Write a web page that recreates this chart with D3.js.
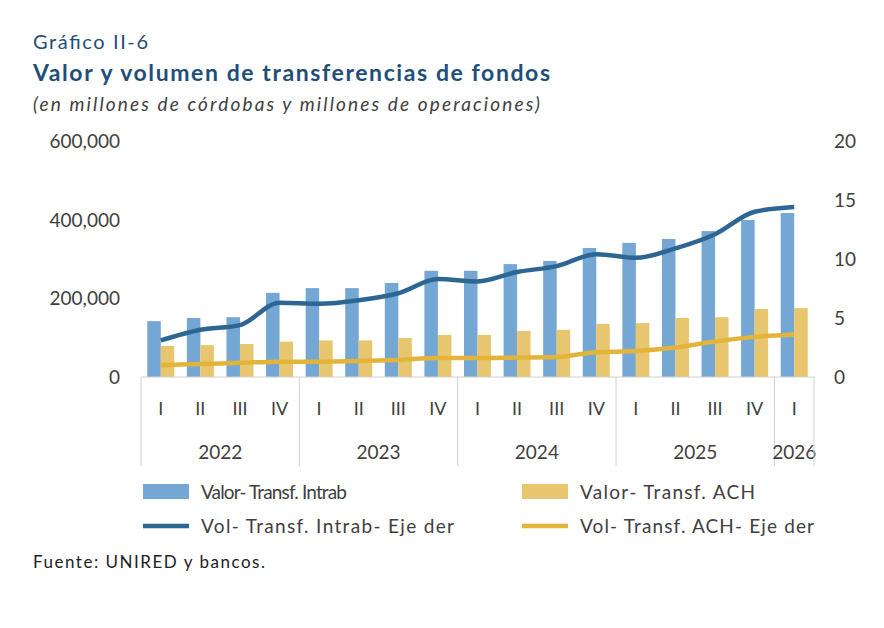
<!DOCTYPE html>
<html><head><meta charset="utf-8">
<script src="https://cdn.jsdelivr.net/npm/d3@7"></script>
<style>body{margin:0;background:#fff;font-family:Lato,"Open Sans",sans-serif}</style>
</head><body><svg id="c" width="884" height="628"></svg>
<script>
const quarters = ["I","II","III","IV","I","II","III","IV","I","II","III","IV","I","II","III","IV","I"];
const years = [["2022",4],["2023",4],["2024",4],["2025",4],["2026",1]];
const valIntrab = [142,150,152,214,226,226,239,270,270,287,295,328,341,351,371,399,417].map(v=>v*1000);
const valACH = [79,81,84,90,93,93,99,107,107,117,120,135,137,150,152,173,175].map(v=>v*1000);
const volIntrab = [3.1,4.0,4.4,6.3,6.2,6.5,7.1,8.3,8.1,8.9,9.4,10.4,10.1,10.9,12.1,14.0,14.4];
const volACH = [1.0,1.1,1.2,1.3,1.3,1.35,1.45,1.6,1.6,1.65,1.7,2.1,2.2,2.5,3.0,3.4,3.6];
const leftTicks = [0,200000,400000,600000];
const rightTicks = [0,5,10,15,20];

const blueBar="#75a7d4", goldBar="#e8c670", blueLine="#2e6693", goldLine="#e2b53a", txt="#404040";
const svg=d3.select("#c");
const x0=141, x1=814, yTop=141, yBot=377;
const idx=d3.range(quarters.length);
const x=d3.scaleBand().domain(idx).range([x0,x1]);
const yL=d3.scaleLinear().domain([0,600000]).range([yBot,yTop]);
const yR=d3.scaleLinear().domain([0,20]).range([yBot,yTop]);
const bw=13.5;

// titles
svg.append("text").attr("x",33).attr("y",49).attr("font-size",20).attr("fill","#1f4e79").attr("textLength",115).text("Gráfico II-6");
svg.append("text").attr("x",33).attr("y",81).attr("font-size",23).attr("font-weight","bold").attr("fill","#1f4e79").attr("textLength",517).text("Valor y volumen de transferencias de fondos");
svg.append("text").attr("x",33).attr("y",111).attr("font-size",19).attr("font-style","italic").attr("fill","#404040").attr("textLength",507).text("(en millones de córdobas y millones de operaciones)");

// axes labels
const fmt=d3.format(",");
svg.selectAll(".lt").data(leftTicks).join("text").attr("x",120).attr("y",d=>yL(d)+7)
  .attr("text-anchor","end").attr("font-size",19).attr("fill",txt).text(d=>fmt(d));
svg.selectAll(".rt").data(rightTicks).join("text").attr("x",834).attr("y",d=>yR(d)+7)
  .attr("font-size",19).attr("fill",txt).text(d=>d);

// bars
svg.selectAll(".b1").data(idx).join("rect").attr("x",i=>x(i)+x.bandwidth()/2-bw).attr("width",bw)
  .attr("y",i=>yL(valIntrab[i])).attr("height",i=>yBot-yL(valIntrab[i])).attr("fill",blueBar);
svg.selectAll(".b2").data(idx).join("rect").attr("x",i=>x(i)+x.bandwidth()/2).attr("width",bw)
  .attr("y",i=>yL(valACH[i])).attr("height",i=>yBot-yL(valACH[i])).attr("fill",goldBar);

// lines
const cx=i=>x(i)+x.bandwidth()/2;
svg.append("path").datum(idx).attr("fill","none").attr("stroke",goldLine).attr("stroke-width",4.5)
  .attr("d",d3.line().x(cx).y(i=>yR(volACH[i])).curve(d3.curveMonotoneX));
svg.append("path").datum(idx).attr("fill","none").attr("stroke",blueLine).attr("stroke-width",4.5)
  .attr("d",d3.line().x(cx).y(i=>yR(volIntrab[i])).curve(d3.curveMonotoneX));

// category axis
svg.append("line").attr("x1",x0).attr("x2",x1).attr("y1",yBot).attr("y2",yBot).attr("stroke","#d0d0d0");
svg.selectAll(".q").data(idx).join("text").attr("x",cx).attr("y",415).attr("text-anchor","middle")
  .attr("font-size",18).attr("fill",txt).text(i=>quarters[i]);
let s=0;
years.forEach(([y,n])=>{
  const a=x(s), b=s+n<quarters.length?x(s+n):x1;
  svg.append("line").attr("x1",a).attr("x2",a).attr("y1",yBot).attr("y2",466).attr("stroke","#d0d0d0");
  svg.append("text").attr("x",(a+b)/2).attr("y",459).attr("text-anchor","middle").attr("font-size",19).attr("fill",txt).text(y);
  s+=n;
});
svg.append("line").attr("x1",x1).attr("x2",x1).attr("y1",yBot).attr("y2",466).attr("stroke","#d0d0d0");

// legend
const leg=[["Valor- Transf. Intrab",146,"bar",blueBar,143,492],["Valor- Transf. ACH",175,"bar",goldBar,522,492],
  ["Vol- Transf. Intrab- Eje der",253,"line",blueLine,143,526],["Vol- Transf. ACH- Eje der",234,"line",goldLine,522,526]];
leg.forEach(([t,w,k,c,lx,ly])=>{
  if(k==="bar") svg.append("rect").attr("x",lx).attr("y",ly-8).attr("width",46).attr("height",15).attr("fill",c);
  else svg.append("line").attr("x1",lx).attr("x2",lx+46).attr("y1",ly).attr("y2",ly).attr("stroke",c).attr("stroke-width",4.5);
  svg.append("text").attr("x",lx+58).attr("y",ly+7).attr("font-size",19).attr("fill",txt).attr("textLength",w).text(t);
});
svg.append("text").attr("x",33).attr("y",568).attr("font-size",17).attr("fill","#222").attr("textLength",232).text("Fuente: UNIRED y bancos.");
</script></body></html>
